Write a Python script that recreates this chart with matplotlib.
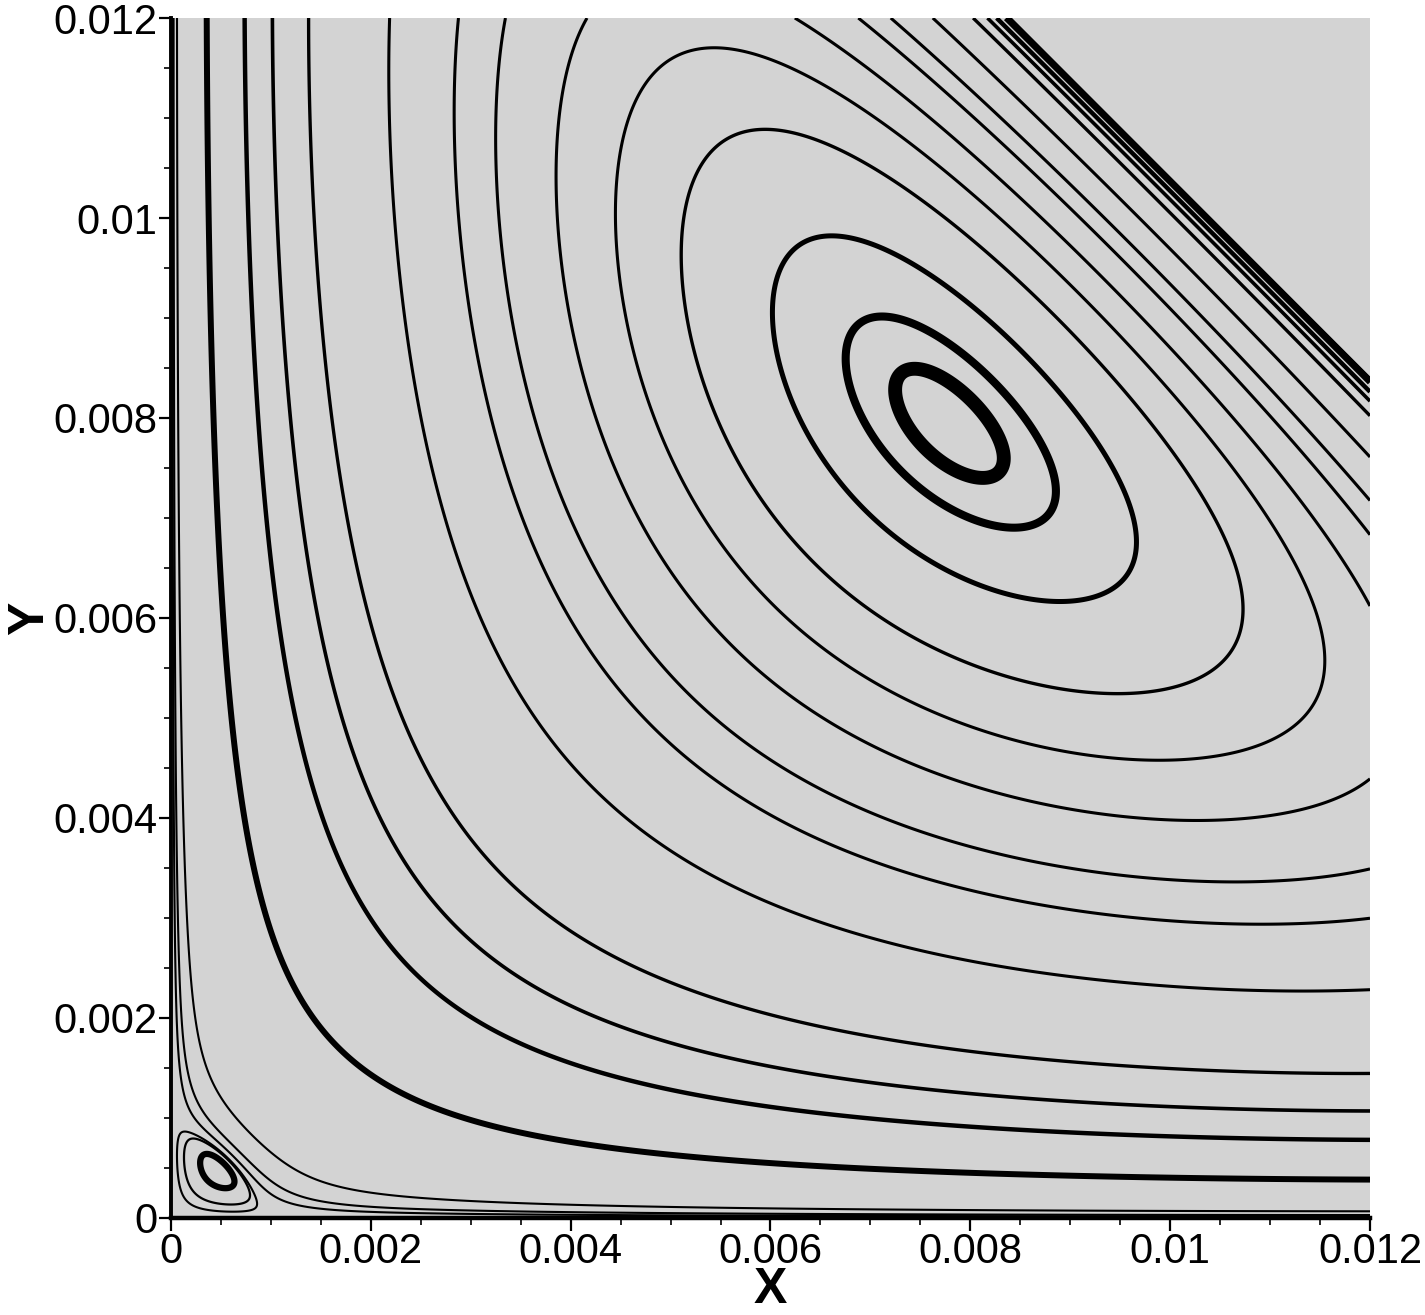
import numpy as np
import matplotlib.pyplot as plt
from matplotlib.ticker import MultipleLocator, FuncFormatter

# model of the stream function in the triangular cavity (lengths in mm)
LID = 20.4          # moving lid lies on x + y = LID
P_LID = 1.2
B_Y = 2.04
EDDY_K = 2.0
EDDY_R = 0.945      # where the corner separatrix meets the walls
EDDY_C = 0.6

# points (x, y in m) that each streamline passes through
line1 = [(0.00035, 0.008), (0.00031, 0.012), (0.012, 0.00034), (0.00831, 0.012)]
line2 = [(0.00081, 0.008), (0.00074, 0.012), (0.012, 0.00076), (0.00824, 0.012)]
line3 = [(0.00114, 0.008), (0.00105, 0.012), (0.012, 0.00108), (0.00817, 0.012)]
line4 = [(0.00156, 0.008), (0.00145, 0.012), (0.012, 0.00150), (0.00806, 0.012)]
line5 = [(0.00238, 0.008), (0.00226, 0.012), (0.012, 0.00232), (0.00771, 0.012), (0.012, 0.00750)]
line6 = [(0.00307, 0.008), (0.00297, 0.012), (0.012, 0.00307), (0.00731, 0.012), (0.012, 0.00706)]
line7 = [(0.00349, 0.008), (0.00344, 0.012), (0.012, 0.00360), (0.00699, 0.012), (0.012, 0.00671)]
line8 = [(0.00405, 0.008), (0.00426, 0.012), (0.012, 0.00468), (0.00637, 0.012), (0.012, 0.00585)]
loop5 = [(0.00462, 0.008), (0.00774, 0.01037), (0.00560, 0.01170), (0.01142, 0.00565)]
loop4 = [(0.00547, 0.008), (0.00774, 0.00987), (0.00575, 0.01068), (0.01044, 0.00738)]
loop3 = [(0.00614, 0.008), (0.00774, 0.00920), (0.00959, 0.00650)]
loop2 = [(0.00690, 0.008), (0.00774, 0.00888), (0.00871, 0.00720), (0.00682, 0.00850)]
loop1 = [(0.00728, 0.008), (0.00774, 0.00840), (0.00822, 0.00780)]
main_lines = [line1, line2, line3, line4, line5, line6, line7, line8,
              loop5, loop4, loop3, loop2, loop1]
wall_lines = [[(0.00022, 0.00218)], [(0.00031, 0.00108)], [(0.00062, 0.00062)]]
eddy_lines = [[(0.00006, 0.00060)], [(0.00013, 0.00060)], [(0.00030, 0.00060)]]

main_lw = [4.3, 3.2, 2.6, 2.4, 2.2, 2.2, 2.2, 2.2, 2.2, 2.4, 3.6, 5.8, 10.0]
wall_lw = [1.5, 1.5, 1.5]
eddy_lw = [1.5, 1.6, 4.5]


def psi(x, y):
    u = np.asarray(x) * 1e3
    v = np.asarray(y) * 1e3
    d = np.clip(LID - u - v, 0, None)
    r0sq = EDDY_R ** 2 / np.log(EDDY_K)
    r2 = u ** 2 + v ** 2 + EDDY_C * u * v
    return u ** 2 * v ** B_Y * d ** P_LID * (1 - EDDY_K * np.exp(-r2 / r0sq))


def level(points):
    vals = np.array([float(psi(px, py)) for px, py in points])
    return float(np.sign(vals[0]) * np.exp(np.mean(np.log(np.abs(vals)))))


xs = np.linspace(0, 0.012, 1601)
X, Y = np.meshgrid(xs, xs)
Z = psi(X, Y)

# finer grid for the corner eddy
xe = np.linspace(0, 0.0025, 801)
XE, YE = np.meshgrid(xe, xe)
ZE = psi(XE, YE)

fig = plt.figure(figsize=(14.25, 13.15), dpi=100)
ax = fig.add_axes([0.12, 0.0738, 0.8414, 0.9125])
ax.set_facecolor('#d3d3d3')

for pts, lw in zip(main_lines + wall_lines, main_lw + wall_lw):
    ax.contour(X, Y, Z, levels=[level(pts)], colors='k', linewidths=lw)
for pts, lw in zip(eddy_lines, eddy_lw):
    ax.contour(XE, YE, ZE, levels=[level(pts)], colors='k', linewidths=lw,
               negative_linestyles='solid')

ax.set_xlim(0, 0.012)
ax.set_ylim(0, 0.012)
fmt = FuncFormatter(lambda v, _: f'{v:g}')
for axis in (ax.xaxis, ax.yaxis):
    axis.set_major_locator(MultipleLocator(0.002))
    axis.set_minor_locator(MultipleLocator(0.0005))
    axis.set_major_formatter(fmt)
ax.tick_params(which='major', direction='out', length=9, width=1.6,
               labelsize=30, pad=1)
ax.tick_params(which='minor', direction='out', length=5, width=1.2)
for lab in ax.get_xticklabels() + ax.get_yticklabels():
    lab.set_fontfamily(['Liberation Sans', 'DejaVu Sans'])
ax.spines['top'].set_visible(False)
ax.spines['right'].set_visible(False)
ax.spines['left'].set_linewidth(2.8)
ax.spines['bottom'].set_linewidth(3.2)

lab_font = dict(fontsize=36, fontweight='bold', family=['Liberation Sans', 'DejaVu Sans'])
ax.set_xlabel('X', **lab_font)
ax.set_ylabel('Y', labelpad=0, **lab_font)
ax.xaxis.set_label_coords(0.5, -0.041)

fig.savefig('out.png', dpi=100)
